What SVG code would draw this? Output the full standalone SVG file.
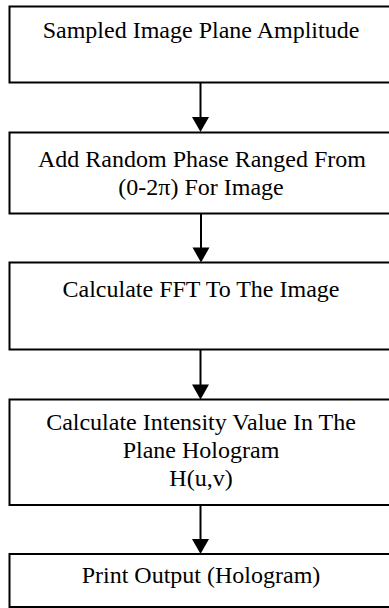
<svg xmlns="http://www.w3.org/2000/svg" width="389" height="608" viewBox="0 0 389 608">
<style>
.box{fill:#fff;stroke:#000;stroke-width:2}
.t{font-family:"Liberation Serif","Times New Roman",serif;font-size:24px;fill:#000;text-anchor:middle}
.conn{stroke:#000;stroke-width:2;fill:none}
</style>
<defs>
<marker id="ah" viewBox="0 0 17 15" refX="8.5" refY="15" markerWidth="17" markerHeight="15" markerUnits="userSpaceOnUse" orient="auto-start-reverse">
<path d="M0,0 L17,0 L8.5,15 Z" fill="#000"/>
</marker>
</defs>
<rect width="389" height="608" fill="#fff"/>
<g id="n1">
<rect class="box" x="9.5" y="6.5" width="400" height="76"/>
<text class="t" x="201" y="38">Sampled Image Plane Amplitude</text>
</g>
<g id="n2">
<rect class="box" x="9.5" y="132.5" width="400" height="81"/>
<text class="t" x="202" y="167">Add Random Phase Ranged From</text>
<text class="t" x="201" y="195">(0-2π) For Image</text>
</g>
<g id="n3">
<rect class="box" x="9.5" y="262.5" width="400" height="87"/>
<text class="t" x="201" y="297">Calculate FFT To The Image</text>
</g>
<g id="n4">
<rect class="box" x="9.5" y="399.5" width="400" height="105.5"/>
<text class="t" x="201" y="430">Calculate Intensity Value In The</text>
<text class="t" x="201" y="458">Plane Hologram</text>
<text class="t" x="201" y="486">H(u,v)</text>
</g>
<g id="n5">
<rect class="box" x="9.5" y="554" width="400" height="53"/>
<text class="t" x="201" y="583">Print Output (Hologram)</text>
</g>
<g id="connectors">
<line class="conn" x1="200.5" y1="82.5" x2="200.5" y2="118" />
<path d="M192,117 L209,117 L200.5,132 Z" fill="#000"/>
<line class="conn" x1="201" y1="213.5" x2="201" y2="248" />
<path d="M192.5,247.5 L209.5,247.5 L201,262.5 Z" fill="#000"/>
<line class="conn" x1="200.5" y1="349.5" x2="200.5" y2="385" />
<path d="M192,384.5 L209,384.5 L200.5,399.5 Z" fill="#000"/>
<line class="conn" x1="200.5" y1="505" x2="200.5" y2="540" />
<path d="M192,539 L209,539 L200.5,554 Z" fill="#000"/>
</g>
</svg>
